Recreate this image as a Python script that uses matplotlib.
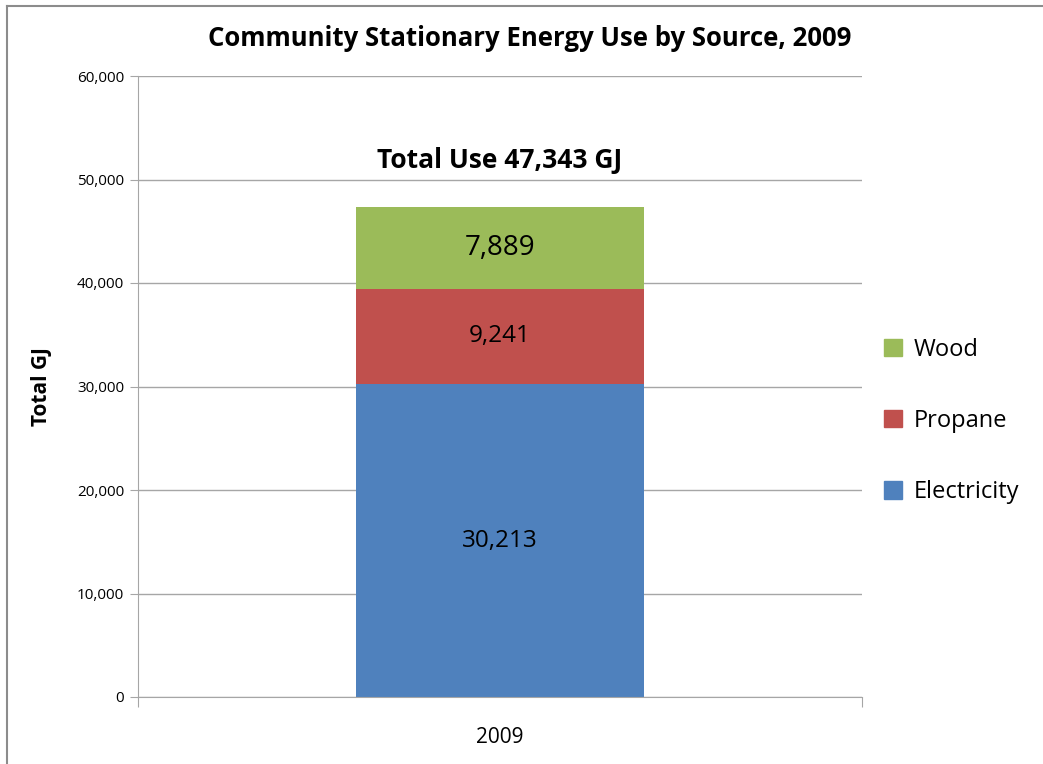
import matplotlib.pyplot as plt
from matplotlib.lines import Line2D
from matplotlib.patches import Patch

# data
year = ["2009"]
sources = ["Electricity", "Propane", "Wood"]
values = [30213, 9241, 7889]
colors = ["#4F81BD", "#C0504D", "#9BBB59"]
label_sizes = [17.5, 17.5, 20]
total = 47343

plt.rcParams['font.family'] = ['Open Sans', 'DejaVu Sans']

fig = plt.figure(figsize=(10.43, 7.64), dpi=100)
ax = fig.add_axes([138/1043, 1 - 697/764, 724/1043, 621/764])

bottom = 0
for name, v, c, fs in zip(sources, values, colors, label_sizes):
    ax.bar(0, v, width=0.398, bottom=bottom, color=c, label=name, zorder=2)
    ax.text(0, bottom + v / 2, f"{v:,}", ha="center", va="center",
            fontsize=fs, color="black", zorder=3)
    bottom += v

ax.text(0, 51800, f"Total Use {total:,} GJ", ha="center", va="center",
        fontsize=19, fontweight="bold")

# axes styling
ax.set_xlim(-0.5, 0.5)
ax.set_ylim(0, 60000)
ax.set_yticks(range(0, 60001, 10000))
ax.set_yticklabels([f"{t:,}" for t in range(0, 60001, 10000)], fontsize=11)
ax.yaxis.grid(True, color="#a6a6a6", linewidth=1, zorder=0)
ax.set_axisbelow(True)
ax.tick_params(axis="y", length=6, color="#a6a6a6", pad=4)

ax.set_xticks([-0.5, 0.5])
ax.set_xticklabels([])
ax.tick_params(axis="x", length=7, color="#a6a6a6")
ax.text(0, -3900, year[0], ha="center", va="center", fontsize=15)

for s in ["top", "right"]:
    ax.spines[s].set_visible(False)
for s in ["left", "bottom"]:
    ax.spines[s].set_color("#a6a6a6")

ax.set_ylabel("Total GJ", fontsize=15, fontweight="bold", labelpad=18)

fig.text(530/1043, 1 - 38/764, "Community Stationary Energy Use by Source, 2009",
         ha="center", va="center", fontsize=18.5, fontweight="bold")

# legend (reverse order, like Excel)
handles = [Patch(color=c) for c in colors[::-1]]
leg = fig.legend(handles, sources[::-1], loc="center left",
                 bbox_to_anchor=(863/1043, 1 - 421/764), frameon=False,
                 fontsize=17, handlelength=0.75, handleheight=0.75,
                 handletextpad=0.5, labelspacing=2.0)

# outer border lines
fig.add_artist(Line2D([7/1043, 1], [1 - 6/764, 1 - 6/764], color="#8c8c8c",
                      linewidth=1.5, transform=fig.transFigure))
fig.add_artist(Line2D([7/1043, 7/1043], [0, 1 - 6/764], color="#8c8c8c",
                      linewidth=1.5, transform=fig.transFigure))

fig.savefig("out.png", dpi=100)
